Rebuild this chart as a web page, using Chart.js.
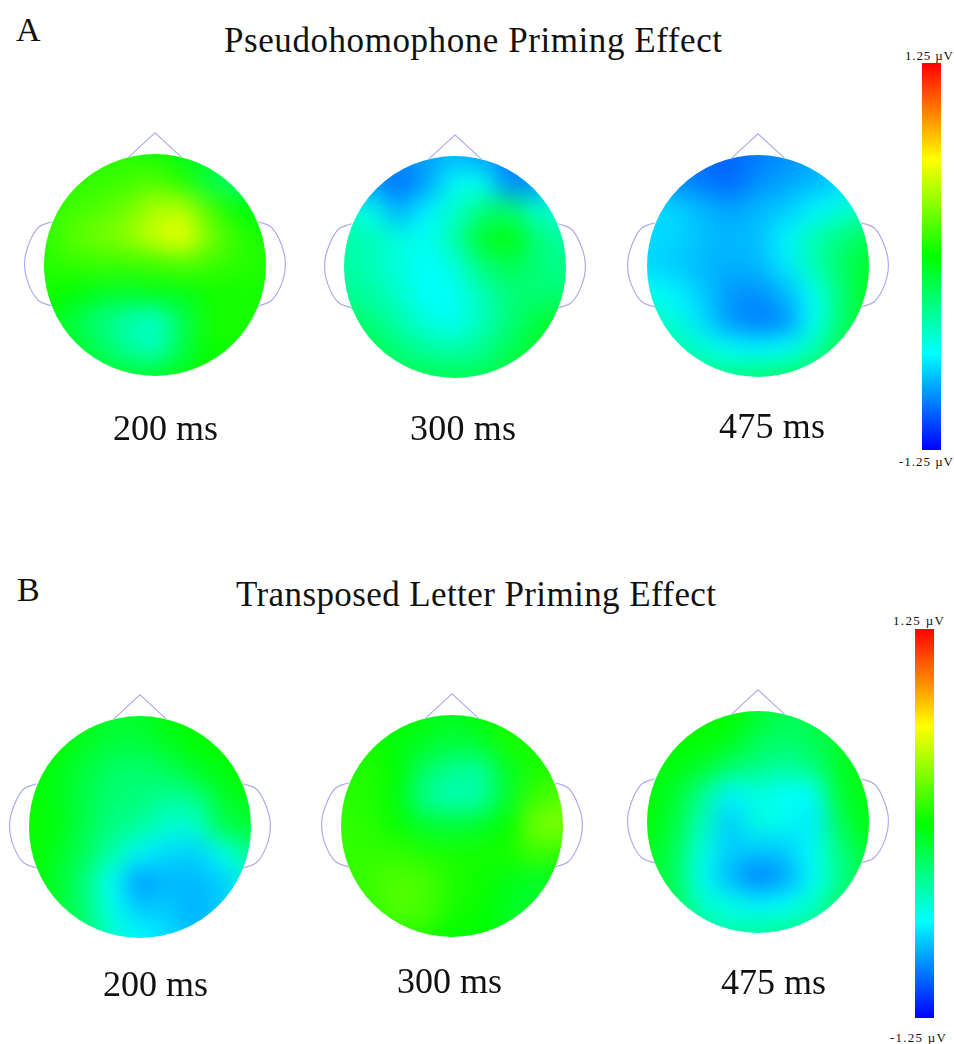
<!DOCTYPE html>
<html><head><meta charset="utf-8">
<script src="https://cdn.jsdelivr.net/npm/chart.js@4/dist/chart.umd.min.js"></script>
<style>
html,body{margin:0;padding:0;background:#fff;width:954px;height:1044px;overflow:hidden}
#page{position:relative;width:954px;height:1044px;overflow:hidden}
canvas{position:absolute}
.t{position:absolute;font-family:"Liberation Serif",serif;color:#111;white-space:nowrap;line-height:1}
</style></head><body><div id="page"></div>
<script>
// Electrode-space coordinates of the value grid (head radius = 1)
const gridX = [-1,-0.75,-0.5,-0.25,0,0.25,0.5,0.75,1];
const gridY = [1,0.75,0.5,0.25,0,-0.25,-0.5,-0.75,-1];

// Amplitudes in microvolts
const a200 = [
[.1,.1,.1,.1,.05,-.05,-.12,-.15,-.15],
[.1,.1,.12,.15,.2,.08,-.18,-.28,-.22],
[.1,.15,.2,.28,.42,.45,.18,-.02,-.05],
[.1,.22,.28,.35,.5,.6,.3,.12,.05],
[.08,.12,.14,.14,.15,.2,.15,.1,.08],
[.05,0,-.08,-.1,-.05,-.05,.03,.05,.05],
[-.02,-.15,-.3,-.42,-.5,-.22,.05,.06,.05],
[-.02,-.1,-.22,-.38,-.48,-.18,.02,.05,.05],
[0,0,-.1,-.12,-.12,-.05,0,0,0]];
const a300 = [
[-.9,-.9,-.9,-.85,-.8,-.85,-.95,-.95,-.75],
[-.9,-.88,-.98,-.85,-.6,-.6,-.92,-.88,-.7],
[-.5,-.58,-.82,-.65,-.5,-.3,-.25,-.5,-.5],
[-.4,-.45,-.55,-.6,-.42,-.1,-.02,-.3,-.4],
[-.4,-.45,-.55,-.62,-.55,-.3,-.2,-.3,-.35],
[-.35,-.4,-.5,-.62,-.6,-.45,-.3,-.28,-.28],
[-.25,-.3,-.42,-.55,-.6,-.45,-.3,-.15,-.1],
[-.15,-.2,-.3,-.38,-.42,-.35,-.2,-.1,-.08],
[-.1,-.15,-.2,-.2,-.2,-.2,-.15,-.1,-.1]];
const a475 = [
[-.95,-.95,-1,-1,-.95,-.9,-.85,-.8,-.7],
[-.9,-.9,-.95,-1,-.9,-.85,-.8,-.72,-.6],
[-.7,-.72,-.8,-.85,-.8,-.75,-.65,-.55,-.45],
[-.72,-.72,-.78,-.8,-.78,-.65,-.45,-.3,-.2],
[-.72,-.75,-.8,-.82,-.8,-.68,-.45,-.25,-.1],
[-.58,-.65,-.75,-.88,-.9,-.8,-.6,-.3,-.08],
[-.45,-.55,-.7,-.88,-.95,-.9,-.62,-.28,-.08],
[-.35,-.4,-.52,-.62,-.65,-.62,-.45,-.2,-.05],
[-.25,-.28,-.32,-.32,-.3,-.25,-.2,-.1,0]];
const b200 = [
[0,0,-.05,-.1,-.1,-.03,0,0,0],
[0,0,-.08,-.15,-.15,-.08,0,0,0],
[0,-.05,-.15,-.25,-.28,-.22,-.1,-.03,0],
[.02,-.05,-.18,-.28,-.3,-.38,-.35,-.1,-.05],
[.04,-.03,-.18,-.32,-.38,-.52,-.52,-.2,-.12],
[.02,-.08,-.22,-.42,-.65,-.72,-.75,-.58,-.35],
[0,-.1,-.3,-.62,-.88,-.8,-.8,-.75,-.55],
[0,-.12,-.28,-.58,-.75,-.75,-.82,-.75,-.6],
[0,-.1,-.25,-.5,-.62,-.7,-.8,-.7,-.55]];
const b300 = [
[.05,.05,0,-.03,-.08,-.03,.05,.05,.05],
[.05,.05,-.03,-.08,-.15,-.1,.06,.06,.06],
[.08,.08,0,-.25,-.35,-.4,-.1,.06,.08],
[.1,.08,-.02,-.35,-.45,-.42,-.12,.15,.22],
[.12,.1,.02,-.1,-.15,-.1,0,.28,.32],
[.12,.12,.12,.08,.05,.05,.05,.15,.12],
[.12,.14,.2,.18,.08,.03,-.05,-.1,-.08],
[.1,.12,.2,.18,.06,.02,-.08,-.12,-.1],
[.05,.08,.1,.08,0,0,-.05,-.08,-.08]];
const b475 = [
[0,0,0,0,-.1,-.2,-.2,-.15,-.1],
[0,0,.02,-.05,-.2,-.25,-.2,-.1,-.1],
[-.03,-.03,-.1,-.25,-.32,-.38,-.3,-.08,-.05],
[-.02,-.1,-.35,-.65,-.55,-.62,-.62,-.1,-.03],
[0,-.15,-.45,-.75,-.55,-.58,-.68,-.2,-.03],
[-.05,-.2,-.55,-.75,-.75,-.75,-.6,-.3,-.1],
[-.1,-.22,-.6,-.8,-.95,-.85,-.62,-.35,-.15],
[-.1,-.2,-.5,-.58,-.65,-.62,-.5,-.25,-.12],
[-.1,-.15,-.35,-.42,-.4,-.35,-.3,-.2,-.1]];

// Head outline, in head radii
const noseX = [-0.24,0,0.24];
const noseY = [0.97,1.19,0.97];
const earX = [0.93,1.05,1.14,1.175,1.14,1.05,0.93];
const earY = [0.39,0.34,0.18,0.01,-0.17,-0.32,-0.37];

// Labels
const panelTitles = ['Pseudohomophone Priming Effect','Transposed Letter Priming Effect'];
const panelLetters = ['A','B'];
const timeLabels = ['200 ms','300 ms','475 ms'];
const colorTicks = [1.25,-1.25];
const colorStops = ['#0000ff','#00ffff','#00ff00','#ffff00','#ff0000'];

// Layout, separate from the data
const R = 111;
const CW = 300, CH = 290;
const heads = [
 {v:a200,cx:155,cy:264.5},{v:a300,cx:454.5,cy:267},{v:a475,cx:758,cy:266},
 {v:b200,cx:140,cy:827},{v:b300,cx:451.5,cy:825.5},{v:b475,cx:757.5,cy:821.5}];
const bars = [{l:922,t:63,w:19,h:387},{l:915,t:629,w:19,h:389}];

const page = document.getElementById('page');
const OUTLINE = '#adadea';

function rainbow(v){
  const s = Math.max(0,Math.min(1,(v+1.25)/2.5))*4;
  const i = Math.min(3,Math.floor(s)), f = s-i;
  const seg = [[0,f,1],[0,1,1-f],[f,1,0],[1,1-f,0]][i];
  return `rgb(${seg.map(c=>Math.round(c*255)).join(',')})`;
}

const blurHead = {
  id:'blurHead',
  afterDatasetDraw(chart,args){
    if(args.index!==2) return;
    const c = chart.canvas, ctx = chart.ctx;
    const copy = document.createElement('canvas');
    copy.width=c.width; copy.height=c.height;
    copy.getContext('2d').drawImage(c,0,0);
    const x=chart.scales.x, y=chart.scales.y;
    const cx=x.getPixelForValue(0), cy=y.getPixelForValue(0), r=x.getPixelForValue(1)-cx;
    ctx.save();
    ctx.setTransform(1,0,0,1,0,0);
    ctx.clearRect(0,0,c.width,c.height);
    ctx.beginPath(); ctx.arc(cx,cy,r,0,Math.PI*2); ctx.clip();
    ctx.filter='blur(12px)';
    ctx.drawImage(copy,0,0);
    ctx.restore();
  }
};

function addCanvas(l,t,w,h){
  const c=document.createElement('canvas');
  c.style.left=l+'px'; c.style.top=t+'px'; c.style.width=w+'px'; c.style.height=h+'px';
  c.width=w; c.height=h;
  page.appendChild(c);
  return c;
}
const hidden = {display:false};

heads.forEach(h=>{
  const c=addCanvas(h.cx-CW/2,h.cy-CH/2,CW,CH);
  const pts=[];
  gridY.forEach((yy,r)=>gridX.forEach((xx,k)=>pts.push({x:xx,y:yy,v:h.v[r][k]})));
  const cell=0.25*R/2*Math.SQRT2*1.04;
  const col=ctx=>ctx.raw?rainbow(ctx.raw.v):'#0f0';
  const outline=(xs,ys)=>xs.map((x,i)=>({x,y:ys[i]}));
  new Chart(c,{
    type:'scatter',
    data:{datasets:[
      {data:outline(noseX,noseY),showLine:true,tension:0,borderColor:OUTLINE,borderWidth:1.2,pointRadius:0,fill:false},
      {data:[...outline(earX,earY),{x:null,y:null},...outline(earX.map(x=>-x),earY)],showLine:true,tension:0.4,spanGaps:false,borderColor:OUTLINE,borderWidth:1.2,pointRadius:0,fill:false},
      {data:pts,pointStyle:'rect',pointRadius:cell,pointBorderWidth:0,pointBackgroundColor:col},
      {data:pts,pointStyle:'rect',pointRadius:cell*2.4,pointBorderWidth:0,pointBackgroundColor:col}
    ]},
    options:{
      responsive:false,animation:false,events:[],
      layout:{padding:0,autoPadding:false},
      plugins:{legend:hidden,title:hidden,tooltip:{enabled:false}},
      scales:{
        x:{type:'linear',display:false,bounds:'data',min:-CW/2/R,max:CW/2/R},
        y:{type:'linear',display:false,bounds:'data',min:-CH/2/R,max:CH/2/R}
      }
    },
    plugins:[blurHead]
  });
});

bars.forEach(b=>{
  const c=addCanvas(b.l,b.t,b.w,b.h);
  new Chart(c,{
    type:'bar',
    data:{labels:['µV'],datasets:[{
      data:[[colorTicks[1],colorTicks[0]]],
      barPercentage:1,categoryPercentage:1,borderWidth:0,
      backgroundColor:ctx=>{
        const a=ctx.chart.chartArea;
        if(!a) return '#00ff00';
        const g=ctx.chart.ctx.createLinearGradient(0,a.bottom,0,a.top);
        colorStops.forEach((s,i)=>g.addColorStop(i/(colorStops.length-1),s));
        return g;
      }
    }]},
    options:{
      responsive:false,animation:false,events:[],layout:{padding:0},
      plugins:{legend:hidden,title:hidden,tooltip:{enabled:false}},
      scales:{
        x:{display:false},
        y:{display:false,bounds:'data',min:colorTicks[1],max:colorTicks[0]}
      }
    }
  });
});

function label(text,left,right,midY,size){
  const s=document.createElement('div');
  s.className='t'; s.textContent=text;
  s.style.fontSize=size+'px';
  page.appendChild(s);
  const n=s.getBoundingClientRect().width;
  const ls=(right-left-n)/Math.max(1,text.length-1);
  s.style.letterSpacing=ls+'px';
  s.style.left=left+'px';
  s.style.top=(midY-size/2)+'px';
}
const fmt=v=>`${v} µV`;
label(panelLetters[0],16,42,30,34);
label(panelLetters[1],17,40,590,34);
label(panelTitles[0],224,722,40,35);
label(panelTitles[1],236,716,594,35);
[[113,218,428],[410,516,428],[719,825,426],[103,208,984],[397,502,981],[721,826,982]].forEach((p,i)=>{
  label(timeLabels[i%3],p[0],p[1],p[2],36);
});
label(fmt(colorTicks[0]),905,953,55,13);
label(fmt(colorTicks[1]),899,953,461,13);
label(fmt(colorTicks[0]),893,944,620,13);
label(fmt(colorTicks[1]),890,946,1037,13);
</script></body></html>
